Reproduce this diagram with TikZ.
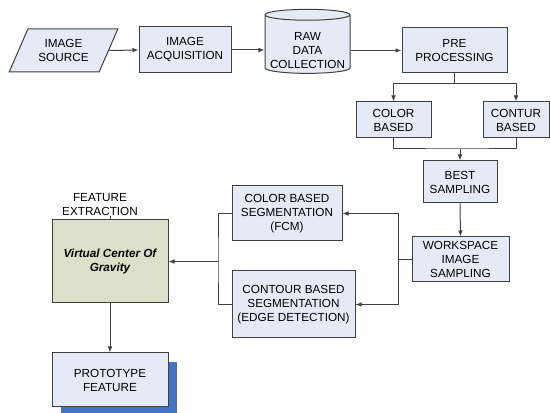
\documentclass[tikz,border=0pt]{standalone}
\usepackage{fontspec}
\setmainfont{Liberation Sans}
\usetikzlibrary{arrows.meta,shapes.geometric,shadows}
\definecolor{boxblue}{RGB}{229,235,246}
\definecolor{boxgreen}{RGB}{221,224,201}
\definecolor{shadowblue}{RGB}{68,114,196}
\definecolor{linegray}{RGB}{64,64,64}
\tikzset{
  box/.style={draw=linegray, line width=0.75pt, fill=boxblue, align=center, inner sep=1pt, font=\fontsize{8.8}{10.5}\selectfont},
  arr/.style={draw=linegray, line width=0.75pt, -{Latex[length=4.5pt,width=3.5pt]}},
  wire/.style={draw=linegray, line width=0.75pt},
}
\begin{document}
\begin{tikzpicture}[x=0.75pt,y=0.75pt,yscale=-1,xscale=1]
\useasboundingbox (0,0) rectangle (551,413);

%Shape: Parallelogram
\draw (63.5,50.5) node (src) [box, trapezium, trapezium left angle=61, trapezium right angle=119, trapezium stretches=true, minimum width=81.75pt, minimum height=32.25pt] {IMAGE\\SOURCE};
%Shape: Rectangle
\draw (185,50) node (acq) [box, minimum width=69pt, minimum height=34.5pt] {IMAGE\\ACQUISITION};
%Shape: Can
\draw (307.5,45) node (raw) [box, cylinder, shape border rotate=90, aspect=0.14, minimum width=63.75pt, minimum height=48pt] {\smash{\raisebox{-7.5pt}{\begin{tabular}{@{}c@{}}RAW\\DATA\\COLLECTION\end{tabular}}}};
%Shape: Rectangle
\draw (454.5,50.5) node (pre) [box, minimum width=78.75pt, minimum height=33.75pt] {PRE\\PROCESSING};
%Shape: Rectangle
\draw (393.5,120) node (color) [box, minimum width=56.25pt, minimum height=27pt] {COLOR\\BASED};
%Shape: Rectangle
\draw (516,120) node (contur) [box, minimum width=49.5pt, minimum height=27pt] {CONTUR\\BASED};
%Shape: Rectangle
\draw (460,182) node (best) [box, minimum width=55.5pt, minimum height=31.5pt] {BEST\\SAMPLING};
%Shape: Rectangle
\draw (460.5,259.5) node (work) [box, minimum width=72.75pt, minimum height=33.75pt] {WORKSPACE\\IMAGE\\SAMPLING};
%Shape: Rectangle
\draw (287,213.5) node (cseg) [box, minimum width=82.5pt, minimum height=41.25pt] {COLOR BASED\\SEGMENTATION\\(FCM)};
%Shape: Rectangle
\draw (293.5,304.5) node (eseg) [box, minimum width=92.25pt, minimum height=50.25pt] {CONTOUR BASED\\SEGMENTATION\\(EDGE DETECTION)};
%Shape: Rectangle
\draw (110,261.5) node (vcog) [box, fill=boxgreen, minimum width=87pt, minimum height=62.25pt, font=\fontsize{8.8}{10.5}\selectfont\bfseries\itshape] {Virtual Center Of\\Gravity};
%Shape: Rectangle
\draw (110,380) node (proto) [box, minimum width=87pt, minimum height=40.5pt, drop shadow={shadow xshift=6.75pt, shadow yshift=-6.75pt, fill=shadowblue, opacity=1}] {PROTOTYPE\\FEATURE};

% Text Node
\draw (100,205) node (fe) [align=center, inner sep=0pt, font=\fontsize{8.8}{10.5}\selectfont] {FEATURE\\EXTRACTION};

% Connection
\draw [arr] (src.east) -- (acq.west);
\draw [arr] (acq.east) -- (raw.west |- acq.east);
\draw [arr] (raw.east |- pre.west) -- (pre.west);
% Connection
\coordinate (split1) at (454.5,84);
\draw [wire] (pre.south) -- (split1);
\draw [arr] (split1) -| (color.north);
\draw [arr] (split1) -| (contur.north);
% Connection
\coordinate (join1) at (460,149);
\draw [wire] (color.south) |- (join1) -| (contur.south);
\draw [arr] (join1) -- (best.north);
\draw [arr] (best.south) -- (work.north);
% Connection
\coordinate (split2) at (398,259.5);
\draw [wire] (work.west) -- (split2);
\draw [arr] (split2) |- (cseg.east);
\draw [arr] (split2) |- (eseg.east);
% Connection
\coordinate (join2) at (218,261.5);
\draw [wire] (cseg.west) -| (join2) |- (eseg.west);
\draw [arr] (join2) -- (vcog.east);
\draw [arr] (vcog.south) -- (proto.north);
\draw [wire] (vcog.north) -- (vcog.north |- fe.south);

\end{tikzpicture}
\end{document}
